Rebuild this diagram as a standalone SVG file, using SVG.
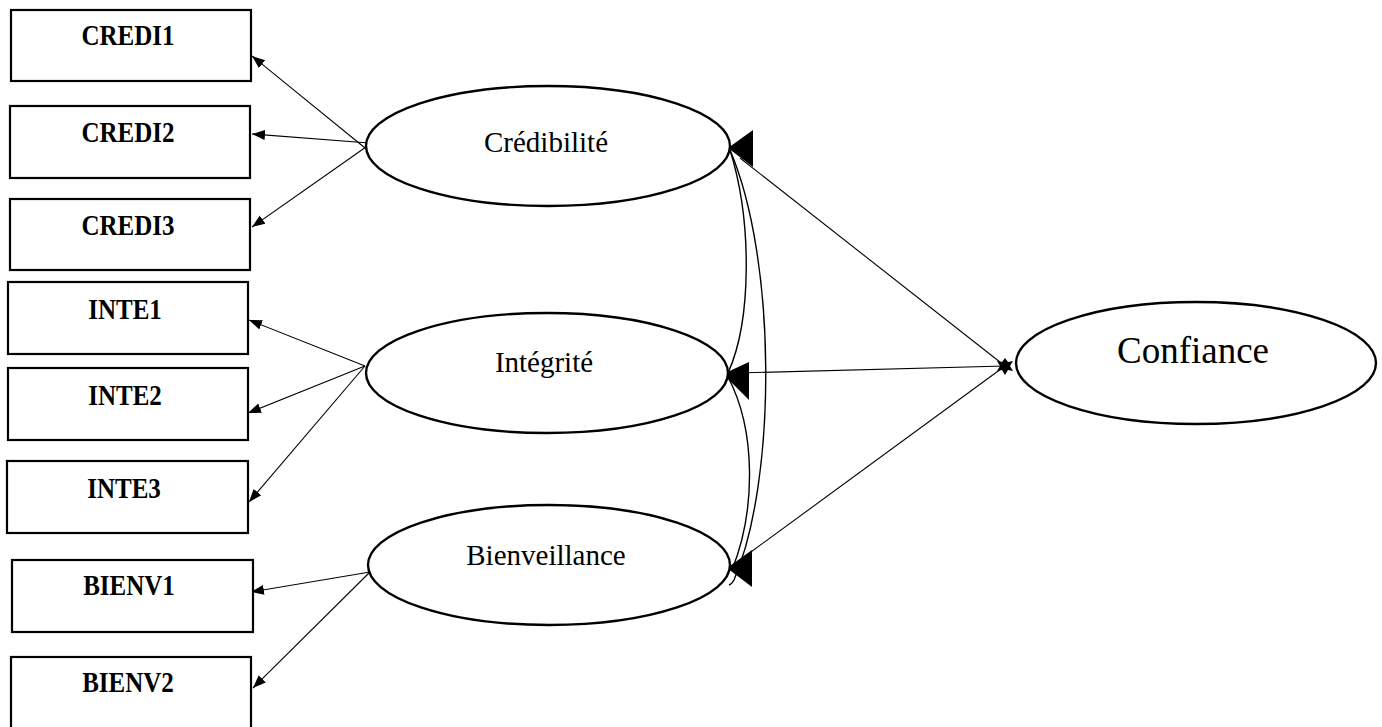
<svg xmlns="http://www.w3.org/2000/svg" width="1382" height="727" viewBox="0 0 1382 727">
<style>
.box{fill:#fff;stroke:#000;stroke-width:2.2}
.ell{fill:#fff;stroke:#000;stroke-width:2.4}
.lbl{font-family:"Liberation Serif","Times New Roman",serif;font-weight:bold;font-size:25px;text-anchor:middle;fill:#000}
.lat{font-family:"Liberation Serif","Times New Roman",serif;font-size:29px;text-anchor:middle;fill:#000}
.big{font-family:"Liberation Serif","Times New Roman",serif;font-size:37px;text-anchor:middle;fill:#000}
.ln{fill:none;stroke:#000;stroke-width:1.1}
.cv{fill:none;stroke:#000;stroke-width:1.4}
.head{fill:#000;stroke:none}
</style>
<defs>
<marker id="arr" markerUnits="userSpaceOnUse" markerWidth="14" markerHeight="11" refX="13" refY="5" orient="auto">
<path d="M0,0 L13,5 L0,10 z" fill="#000"/>
</marker>
</defs>
<rect width="1382" height="727" fill="#fff"/>

<g id="connectors">
<line class="ln" x1="370" y1="152" x2="252" y2="56" marker-end="url(#arr)"/>
<line class="ln" x1="369" y1="143" x2="252" y2="134" marker-end="url(#arr)"/>
<line class="ln" x1="366" y1="147" x2="252" y2="227" marker-end="url(#arr)"/>
<line class="ln" x1="365" y1="366" x2="249" y2="320" marker-end="url(#arr)"/>
<line class="ln" x1="365" y1="366" x2="248" y2="413" marker-end="url(#arr)"/>
<line class="ln" x1="365" y1="366" x2="249" y2="502" marker-end="url(#arr)"/>
<line class="ln" x1="370" y1="572" x2="251" y2="592" marker-end="url(#arr)"/>
<line class="ln" x1="370" y1="572" x2="253" y2="688" marker-end="url(#arr)"/>
<path class="cv" d="M730,150 C752,220 752,320 728,373"/>
<path class="cv" d="M730,150 C777,260 777,480 734,580 Q732,584 729,585"/>
<path class="cv" d="M728,377 C756,430 756,510 732,570"/>
<line class="ln" x1="1005" y1="366" x2="740" y2="158"/>
<line class="ln" x1="1005" y1="366" x2="738" y2="373"/>
<line class="ln" x1="1005" y1="366" x2="740" y2="560"/>
<polygon class="head" points="728,148 753,130 753,167"/>
<polygon class="head" points="723,374 749,362 749,400"/>
<polygon class="head" points="727,568 752,550 752,587"/>
<polygon class="head" points="1005,358 1008,362 1013,361 1010,366 1013,371 1008,370 1005,375 1002,370 997,371 1000,366 997,361 1002,362"/>
</g>

<g id="CREDI1"><rect class="box" x="11" y="10" width="240" height="71"/><text class="lbl" transform="translate(128,45) scale(1,1.14)">CREDI1</text></g>
<g id="CREDI2"><rect class="box" x="10" y="106" width="240" height="72"/><text class="lbl" transform="translate(128,142) scale(1,1.14)">CREDI2</text></g>
<g id="CREDI3"><rect class="box" x="10" y="199" width="240" height="71"/><text class="lbl" transform="translate(128,235) scale(1,1.14)">CREDI3</text></g>
<g id="INTE1"><rect class="box" x="8" y="282" width="240" height="72"/><text class="lbl" transform="translate(125,319) scale(1,1.14)">INTE1</text></g>
<g id="INTE2"><rect class="box" x="8" y="368" width="240" height="72"/><text class="lbl" transform="translate(125,405) scale(1,1.14)">INTE2</text></g>
<g id="INTE3"><rect class="box" x="7" y="461" width="241" height="72"/><text class="lbl" transform="translate(124,498) scale(1,1.14)">INTE3</text></g>
<g id="BIENV1"><rect class="box" x="12" y="560" width="241" height="72"/><text class="lbl" transform="translate(129,595) scale(1,1.14)">BIENV1</text></g>
<g id="BIENV2"><rect class="box" x="11" y="657" width="240" height="75"/><text class="lbl" transform="translate(128,692) scale(1,1.14)">BIENV2</text></g>

<g id="Credibilite"><ellipse class="ell" cx="548" cy="146" rx="182" ry="60"/><text class="lat" x="546" y="152">Crédibilité</text></g>
<g id="Integrite"><ellipse class="ell" cx="547" cy="373" rx="181" ry="60"/><text class="lat" x="544" y="372">Intégrité</text></g>
<g id="Bienveillance"><ellipse class="ell" cx="549" cy="565" rx="181" ry="60"/><text class="lat" x="546" y="565">Bienveillance</text></g>
<g id="Confiance"><ellipse class="ell" cx="1196" cy="363" rx="180" ry="61"/><text class="big" x="1193" y="363">Confiance</text></g>
</svg>
